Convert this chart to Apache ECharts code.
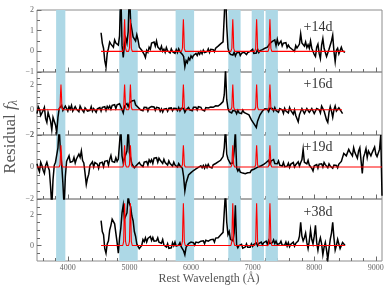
<!DOCTYPE html>
<html><head><meta charset="utf-8">
<script src="https://cdn.jsdelivr.net/npm/echarts@6/dist/echarts.min.js"></script>
<style>html,body{margin:0;padding:0;background:#fff}#c{width:391px;height:293px}</style>
</head><body><div id="c"></div>
<script>
// ---------- data ----------
const panelLabels = ['+14d', '+16d', '+19d', '+38d'];
const xMajorTicks = [4000, 5000, 6000, 7000, 8000, 9000];
const xMinorTicks = [3600, 3800, 4200, 4400, 4600, 4800, 5200, 5400, 5600, 5800, 6200, 6400, 6600, 6800, 7200, 7400, 7600, 7800, 8200, 8400, 8600, 8800];
const yRanges = [[-1, 2], [-2, 3], [-2, 2], [-1, 3]];
const yLabelTicks = [[-1, 0, 1, 2], [-2, 0, 2], [-2, 0, 2], [0, 2]];
const yMinorTicks = [[-0.5, 0.5, 1.5], [-1.5, -1, -0.5, 0.5, 1, 1.5, 2.5], [-1.5, -1, -0.5, 0.5, 1, 1.5], [-0.5, 0.5, 1, 1.5, 2.5]];
const bands = [[3810, 3960], [4835, 5135], [5750, 6050], [6605, 6805], [6985, 7185], [7210, 7410]];

// model emission line profile (offset in Angstrom, relative height)
const profileOffsets = [-30, -15, -8, 0, 8, 15, 30];
const profileShape = [0, 0.1, 0.6, 1, 0.6, 0.1, 0];
const peaks14 = [[4922, 1.55], [5016, 1.55], [5876, 1.55], [6678, 1.55], [7065, 1.55], [7281, 1.55]];
const peaks16 = [[3889, 2.0], [4922, 2.0], [5016, 2.0], [5876, 2.0], [6678, 2.0], [7065, 2.0], [7281, 2.0]];
const peaks19 = [[3889, 1.35], [4922, 1.35], [5016, 1.35], [5876, 1.35], [6678, 1.35], [7065, 1.35], [7281, 1.35]];
const peaks38 = [[4922, 2.73], [5016, 2.73], [5876, 2.73], [6678, 2.73], [7065, 2.73], [7281, 2.73]];
const modelRanges = [[4540, 8500], [3500, 8450], [3500, 9100], [4540, 8500]];

// observed residual spectra (uniform 20 A sampling)
const specStep = 20;
const specStarts = [4540, 3500, 3500, 4540];
const spec14 = [
  0.9, 0.4, 0.15, -0.45, -0.75, -0.1, 0.15, 0.45, 0.35, 0.3,
  0.2, 0.55, 0.4, 0.35, 0.3, 0.75, 3.0, 0.3, -0.3, 0.35,
  0.65, 0.4, 0.95, 3.0, 1.4, 1.05, 0.7, 0.65, 0.5, 0.8,
  0.55, 0.2, 0.15, 0.05, 0.08, -0.15, -0.3, 0.05, -0.05, 0.2,
  0.1, 0.4, 0.35, 0.45, 0.25, 0.5, 0.22, 0.3, 0.08, 0.25,
  0.0, 0.1, -0.05, 0.18, 0.02, 0.05, -0.08, 0.12, -0.02, 0.05,
  -0.1, 0.08, -0.06, 0.12, -0.02, 0.02, -0.15, -0.25, -0.75, -0.45,
  -0.55, -0.32, -0.42, -0.22, -0.32, -0.2, -0.27, -0.1, -0.2, -0.05,
  -0.15, 0.0, -0.12, 0.06, -0.06, 0.03, -0.02, 0.12, -0.06, 0.1,
  0.02, 0.08, -0.02, 0.15, 0.08, 0.25, 0.18, 0.36, 0.28, 0.46,
  0.42, 3.0, 1.2, 0.15, -0.05, -0.15, -0.08, -0.18, -0.05, -0.22,
  -0.08, -0.15, -0.03, -0.2, -0.1, -0.18, -0.04, -0.12, -0.16, -0.06,
  -0.14, 0.0, -0.08, 0.1, -0.1, -0.02, -0.08, 0.1, -0.06, 0.04,
  -0.02, 0.08, 0.03, 0.15, 0.06, 0.2, 0.12, 0.38, 0.35, 0.48,
  0.42, 0.55, 0.28, 0.58, 0.32, 0.4, 0.5, 0.26, 0.4, 0.32,
  0.42, 0.18, 0.3, 0.2, 0.25, 0.1, 0.18, 0.0, 0.28, 0.16,
  0.25, 0.35, 0.85, 0.4, 0.38, 0.25, 0.45, 0.18, 0.32, 0.15,
  0.5, 0.15, 0.2, -0.15, -0.25, 0.2, 0.35, -0.1, -0.35, 0.3,
  0.62, 0.15, 0.1, -0.25, -0.2, 0.1, 0.12, 0.5, 0.78, 0.0,
  -0.5, 0.05, 0.15, -0.12, -0.15, 0.2, 0.02, 0.1, -0.05
];
const spec16 = [
  -0.3, 0.25, 0.05, -0.45, -0.5, -0.05, 0.2, -0.7, -1.0, -0.2, -0.3, -0.9, -1.6, -0.6, -0.5, -1.2, -1.8, -0.6, 0.1, 0.15,
  0.35, -0.05, 0.05, 0.3, 0.1, -0.1, 0.25, 0.05, 0.35, -0.1, 0.0, 0.25, 0.05, 0.2, -0.15, 0.3, 0.1, 0.2, -0.2, 0.15,
  0.25, -0.1, 0.05, -0.05, 0.25, -0.12, 0.1, -0.05, -0.2, 0.08, -0.02, 0.18, -0.1, 0.2, 0.08, 0.25, -0.05, 0.28, 0.12, 0.3,
  0.05, 0.35, 0.2, 0.4, 0.1, 0.4, 0.28, 0.48, 0.35, 0.0, -0.25, 0.3, 0.35, 0.5, 0.25, 0.55, 0.4, 0.7, 0.55, 0.75,
  0.4, 0.55, 0.2, 0.3, 0.0, 0.12, -0.08, 0.2, 0.05, 0.18, -0.1, 0.15, 0.0, 0.25, 0.1, 0.22, -0.05, 0.2, 0.05, 0.15,
  -0.12, 0.08, -0.18, 0.05, -0.05, 0.1, -0.12, 0.12, 0.0, 0.15, -0.08, 0.12, 0.02, 0.1, -0.06, 0.18, -0.08, 0.12, 0.0, 0.1,
  -0.2, 0.0, -0.05, 0.18, 0.0, 0.15, -0.08, 0.2, 0.05, 0.2, -0.02, 0.25, 0.1, 0.2, 0.0, 0.15, -0.1, 0.18, 0.05, 0.15,
  0.0, 0.22, 0.1, 0.2, 0.05, 0.32, 0.2, 0.3, 0.15, 0.45, 0.3, 0.65, 1.2, 3.2, 0.8, 0.1, -0.15, -0.05, -0.25, -0.05,
  -0.2, -0.1, -0.32, -0.05, -0.25, -0.15, -0.3, -0.02, -0.2, -0.12, -0.3, -0.15, -0.4, -0.45, -0.8, -0.85, -1.1, -1.25, -1.4, -0.9,
  -0.75, -0.4, -0.38, -0.1, -0.2, 0.08, -0.05, 0.05, -0.15, 0.12, 0.0, 0.1, -0.1, 0.18, -0.05, 0.05, -0.2, 0.1, -0.05, 0.0,
  -0.28, 0.12, -0.1, 0.0, -0.25, 0.18, -0.05, 0.0, -0.35, 0.0, -0.45, -0.5, -0.95, -0.4, -0.35, 0.1, 0.0, -0.3, -0.35, 0.1,
  0.25, -0.2, -0.25, 0.1, 0.0, -0.3, -0.35, 0.1, 0.25, 0.0, -0.25, 0.3, 0.45, -0.1, -0.45, -0.8, -1.0, -0.2, 0.25, -0.1,
  -0.6, 0.0, 0.3, -0.1, -0.25, 0.15, 0.0, -0.15, -0.3
];
const spec19 = [
  0.2, -0.1, -0.3, 0.3, 0.1, -0.2, -0.4, 0.1, 0.3, 0.0, -0.2, -1.2, -2.5, -0.8, 0.1, 0.3, 0.4, 1.2, 2.5, 1.0,
  0.2, -1.0, -2.5, -0.6, 0.35, 0.45, 0.7, 0.3, 0.4, 0.35, 0.6, 0.25, 0.5, 0.45, 0.8, 0.6, 1.0, 0.4, 0.25, -0.4,
  -1.1, -0.7, -0.45, 0.1, 0.12, 0.32, 0.0, 0.28, 0.2, 0.18, -0.08, 0.25, 0.15, 0.3, 0.02, 0.35, 0.25, 0.4, 0.12, 0.48,
  0.72, 0.35, 0.4, 0.3, 0.58, 0.35, 0.5, 0.6, 2.5, 0.7, 0.25, 0.55, 0.5, 1.0, 2.5, 0.9, 0.55, 0.2, 0.28, -0.05,
  -0.12, 0.12, 0.05, 0.28, 0.15, 0.25, 0.02, 0.3, 0.2, 0.35, 0.12, 0.45, 0.3, 0.45, 0.22, 0.55, 0.45, 0.58, 0.3, 0.55,
  0.42, 0.5, 0.22, 0.48, 0.28, 0.32, 0.12, 0.38, 0.22, 0.28, 0.06, 0.3, 0.12, 0.2, 0.0, 0.22, 0.08, 0.15, -0.08, -0.6,
  -1.5, -1.0, -0.9, -0.5, -0.6, -0.35, -0.45, -0.22, -0.3, -0.12, -0.22, -0.02, -0.12, 0.08, -0.05, 0.1, -0.08, 0.12, -0.04, 0.16,
  0.0, 0.12, -0.06, 0.14, 0.02, 0.22, 0.1, 0.32, 0.2, 0.42, 0.3, 0.65, 1.2, 2.5, 0.8, 0.5, 0.6, 0.2, 0.3, 0.25,
  1.0, 2.3, -0.05, -0.25, -0.12, -0.32, -0.22, -0.38, -0.28, -0.42, -0.3, -0.36, -0.24, -0.34, -0.2, -0.3, -0.14, -0.22, -0.05, -0.16,
  0.02, -0.08, 0.08, -0.02, 0.16, 0.08, 0.28, 0.22, 0.42, 0.18, 0.38, 0.26, 0.46, 0.22, 0.32, 0.2, 0.38, 0.12, 0.18, 0.06,
  0.28, 0.02, 0.12, 0.05, 0.24, -0.02, 0.18, 0.1, 0.28, 0.0, 0.14, 0.12, 0.32, 0.06, 0.28, 0.45, 1.1, 0.3, 0.28, 0.2,
  0.42, 0.12, 0.18, -0.08, -0.25, 0.08, 0.06, 0.15, -0.08, 0.18, 0.1, 0.2, 0.0, 0.28, 0.15, 0.18, -0.04, 0.2, 0.06, 0.14,
  -0.08, 0.12, 0.02, 0.1, -0.05, 0.18, 0.08, 0.35, 0.45, 0.85, 0.8, 0.7, 0.6, 1.1, 0.95, 1.0, 0.7, 1.2, 0.9, 0.8,
  0.55, 1.0, 1.2, 0.4, -0.4, 0.6, 0.85, 1.15, 0.6, 1.0, 1.05, 0.7, 0.9, 0.95, 1.25, 0.8, 0.65, 0.75, 1.1, 2.0,
  -1.8
];
const spec38 = [
  1.6, 0.9, 0.7, -0.2, -0.5, 0.1, 0.3, 1.0, 1.3, 1.7, 1.8, 1.4, 1.3, 0.2, -0.5, 0.5, 1.1, 2.1, 2.6, 1.7,
  1.6, 2.1, 3.2, 2.7, 2.5, 1.9, 1.6, 0.9, 0.6, 0.1, 0.1, -0.2, -0.1, 0.0, 0.38, 0.25, 0.5, 0.22, 0.45, 0.35,
  0.58, 0.32, 0.52, 0.28, 0.4, 0.3, 0.5, 0.22, 0.3, 0.15, 0.38, 0.02, -0.05, -0.1, 0.12, -0.18, -0.12, -0.15, 0.18, -0.02,
  0.22, -0.04, 0.08, 0.02, 0.18, -0.08, -0.02, -0.35, -0.6, -0.12, -0.06, 0.12, 0.02, 0.22, 0.12, 0.18, 0.02, 0.22, 0.12, 0.18,
  0.08, 0.28, 0.16, 0.3, 0.12, 0.34, 0.22, 0.28, 0.16, 0.38, 0.26, 0.4, 0.22, 0.48, 0.36, 0.5, 0.42, 0.68, 0.62, 0.85,
  0.95, 3.5, 1.5, 0.7, 0.9, 0.4, 0.35, 0.3, 0.8, 2.6, 0.05, -0.15, 0.0, -0.12, 0.08, -0.18, -0.08, -0.1, 0.1, -0.12,
  -0.02, -0.12, 0.1, -0.06, 0.08, -0.04, 0.16, -0.02, 0.12, 0.02, 0.22, 0.04, 0.18, 0.12, 0.28, 0.08, 0.32, 0.12, 0.24, 0.18,
  0.36, 0.12, 0.28, 0.08, 0.18, 0.12, 0.28, 0.02, 0.14, 0.02, 0.22, -0.04, 0.18, -0.08, 0.08, 0.02, 0.22, -0.04, 0.14, 0.02,
  0.3, 0.6, 1.5, 0.6, 0.3, 0.5, 0.8, 0.2, -0.2, 0.3, 1.0, 0.4, 0.1, 0.6, 1.3, 0.2, -0.3, 0.2, 0.5, 0.1,
  -0.6, -0.1, 0.2, -0.3, -0.9, -0.2, 0.4, 0.8, 1.5, 0.5, -0.3, 0.0, 0.4, 0.1, -0.2, 0.0, 0.2, 0.1, 0.0
];
const spectra = [spec14, spec16, spec19, spec38];
const peaks = [peaks14, peaks16, peaks19, peaks38];

// ---------- layout ----------
const gridTops = [10, 72, 135, 199];
const gridHeights = [62, 63, 64, 62];
const X_MIN = 3500, X_MAX = 9100;
const FONT = 'Liberation Serif';
const fmtY = v => (v < 0 ? '\u2212' + Math.abs(v) : String(v));
const fmtX = v => String(v);

function specData(k) {
  return spectra[k].map((v, i) => [specStarts[k] + i * specStep, v]);
}
function modelData(k) {
  const out = [[modelRanges[k][0], 0]];
  peaks[k].forEach(([c, h]) => {
    profileOffsets.forEach((o, j) => out.push([c + o, profileShape[j] * h]));
  });
  out.push([modelRanges[k][1], 0]);
  return out;
}

const tickColor = '#6a6a6a';
const grid = [], xAxis = [], yAxis = [], series = [];
for (let k = 0; k < 4; k++) {
  grid.push({left: 37, right: 9, top: gridTops[k], height: gridHeights[k], show: true,
    borderColor: '#8c8c8c', borderWidth: 1, backgroundColor: 'transparent'});
  const last = k === 3;
  xAxis.push({type: 'value', gridIndex: k, min: X_MIN, max: X_MAX, position: 'bottom',
    axisLine: {show: false, onZero: false}, splitLine: {show: false},
    axisTick: {show: true, inside: true, length: 4.5, customValues: xMajorTicks, lineStyle: {color: tickColor}},
    axisLabel: {show: last, customValues: xMajorTicks, margin: 3, fontSize: 8, fontFamily: FONT, color: '#666', formatter: fmtX}});
  xAxis.push({type: 'value', gridIndex: k, min: X_MIN, max: X_MAX, position: 'bottom',
    axisLine: {show: false, onZero: false}, splitLine: {show: false},
    axisTick: {show: true, inside: true, length: 3, customValues: xMinorTicks, lineStyle: {color: tickColor}},
    axisLabel: {show: false}});
  yAxis.push({type: 'value', gridIndex: k, min: yRanges[k][0], max: yRanges[k][1], position: 'left',
    axisLine: {show: false, onZero: false}, splitLine: {show: false},
    axisTick: {show: true, inside: true, length: 4.5, customValues: yLabelTicks[k], lineStyle: {color: tickColor}},
    axisLabel: {show: true, customValues: yLabelTicks[k], margin: 3, fontSize: 8, fontFamily: FONT, color: '#666', formatter: fmtY}});
  yAxis.push({type: 'value', gridIndex: k, min: yRanges[k][0], max: yRanges[k][1], position: 'left',
    axisLine: {show: false, onZero: false}, splitLine: {show: false},
    axisTick: {show: true, inside: true, length: 3, customValues: yMinorTicks[k], lineStyle: {color: tickColor}},
    axisLabel: {show: false}});

  series.push({type: 'line', xAxisIndex: 2 * k, yAxisIndex: 2 * k, data: [], z: 1, silent: true,
    markArea: {silent: true, itemStyle: {color: '#add8e6', opacity: 1},
      data: bands.map(b => [{xAxis: b[0]}, {xAxis: b[1]}])}});
  series.push({type: 'line', xAxisIndex: 2 * k, yAxisIndex: 2 * k, data: specData(k), z: 2,
    showSymbol: false, symbol: 'none', lineStyle: {color: '#000', width: 1.5, join: 'miter'}, clip: true});
  series.push({type: 'line', xAxisIndex: 2 * k, yAxisIndex: 2 * k, data: modelData(k), z: 3,
    showSymbol: false, symbol: 'none', lineStyle: {color: '#ff0000', width: 1.1}, clip: true});
}

const labelY = [27, 84, 147, 212];
const graphic = panelLabels.map((t, k) => ({type: 'text', x: 318, y: labelY[k], z: 10,
  style: {text: t, font: '14px "' + FONT + '"', fill: '#333', align: 'center', verticalAlign: 'middle'}}));
graphic.push({type: 'text', x: 209, y: 279, z: 10,
  style: {text: 'Rest Wavelength (\u00c5)', font: '12px "' + FONT + '"', fill: '#555', align: 'center', verticalAlign: 'middle'}});
graphic.push({type: 'text', x: 11, y: 137, rotation: Math.PI / 2, z: 10,
  style: {text: '{a|Residual }{b|f}{c|\u03bb}', align: 'center', verticalAlign: 'middle', fill: '#555',
    rich: {a: {font: '17px "' + FONT + '"', fill: '#555'},
           b: {font: 'italic 17px "' + FONT + '"', fill: '#555'},
           c: {font: 'italic 12px "' + FONT + '"', fill: '#555', verticalAlign: 'bottom', padding: [6, 0, 0, 0]}}}});

const chart = echarts.init(document.getElementById('c'), null, {renderer: 'canvas'});
chart.setOption({animation: false, grid, xAxis, yAxis, series, graphic});
</script></body></html>
